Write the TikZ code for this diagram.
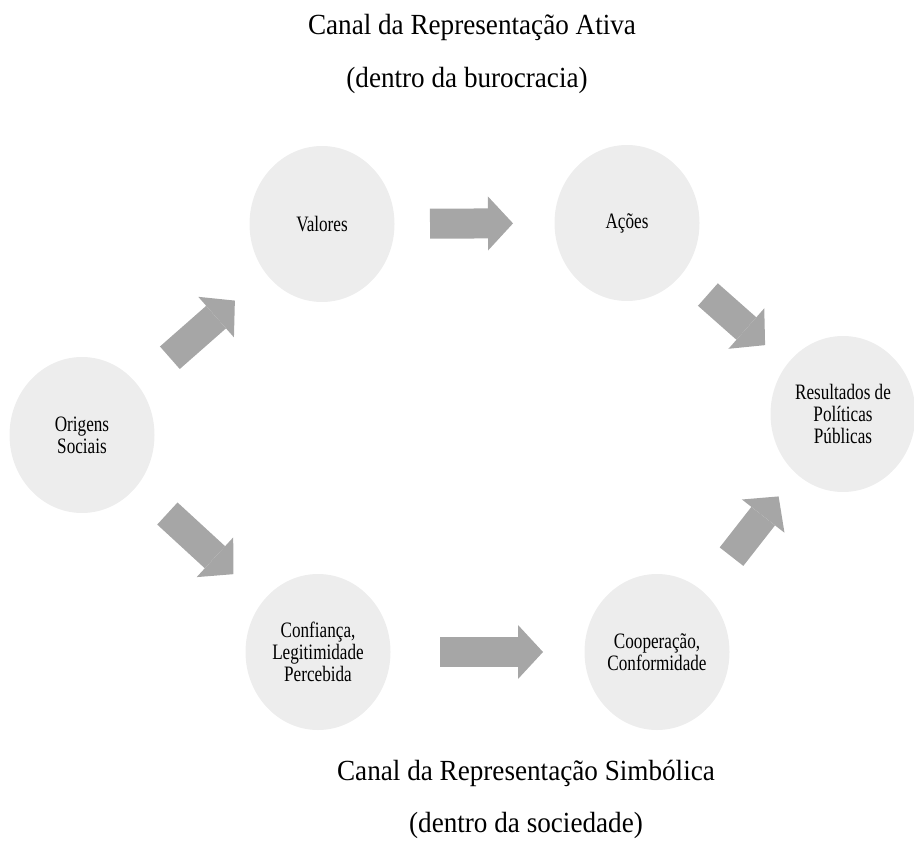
\documentclass[tikz,border=0pt]{standalone}
\usepackage{fontspec}
\setmainfont{Liberation Serif}
\newfontfamily\nodefont{Liberation Serif}[FakeStretch=0.78]
\newfontfamily\titlefont{Liberation Serif}[FakeStretch=0.93]
\usetikzlibrary{shapes.geometric,arrows.meta}
\definecolor{bubblegray}{RGB}{237,237,237}
\definecolor{arrowgray}{RGB}{166,166,166}
\tikzset{
  bubble/.style={ellipse,fill=bubblegray,minimum width=72.5pt,minimum height=78pt,inner sep=0pt,align=center,font=\nodefont\fontsize{11}{11}\selectfont},
  flow/.style={draw=arrowgray,line width=15pt,-{Triangle[length=12.5pt,width=27pt,line width=0pt]}},
  caption/.style={font=\titlefont\fontsize{14.6}{17}\selectfont}
}

\begin{document}
\begin{tikzpicture}[x=0.5pt,y=-0.5pt]
  \useasboundingbox (0,0) rectangle (914,861);
  % channel captions
  \node[caption] (ativa) at (472,27) {Canal da Representação Ativa};
  \node[caption] (burocracia) at (467,80) {(dentro da burocracia)};
  \node[caption] (simbolica) at (526,773) {Canal da Representação Simbólica};
  \node[caption] (sociedade) at (526,825) {(dentro da sociedade)};
  % stages
  \node[bubble] (orig) at (82,435) {Origens\\Sociais};
  \node[bubble] (val) at (322,224) {Valores};
  \node[bubble] (acoes) at (627,223) {Ações};
  \node[bubble] (res) at (843,414) {Resultados de\\Políticas\\Públicas};
  \node[bubble] (conf) at (318,652) {Confiança,\\Legitimidade\\Percebida};
  \node[bubble] (coop) at (657,652) {Cooperação,\\Conformidade};
  % block arrows
  \draw[flow,shorten <=58.5pt,shorten >=58pt] (orig.center) -- (val.center);
  \draw[flow,shorten <=58pt,shorten >=57.5pt] (orig.center) -- (conf.center);
  \draw[flow,shorten <=54pt,shorten >=57pt] (val.center) -- (acoes.center);
  \draw[flow,shorten <=54pt,shorten >=52pt] (acoes.center) -- (res.center);
  \draw[flow,shorten <=61pt,shorten >=57pt] (conf.center) -- (coop.center);
  \draw[flow,shorten <=60.5pt,shorten >=52.3pt] (coop.center) -- (res.center);
\end{tikzpicture}
\end{document}
